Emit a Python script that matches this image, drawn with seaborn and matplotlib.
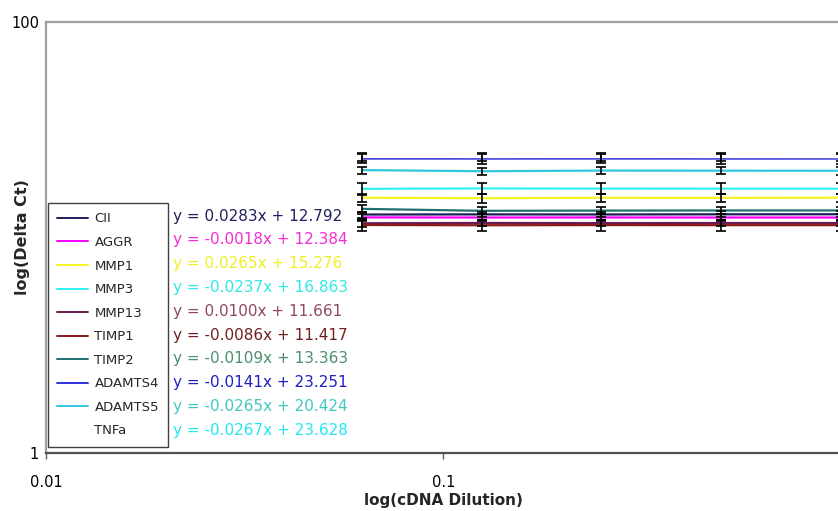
import matplotlib
matplotlib.use("Agg")
import matplotlib.pyplot as plt
from matplotlib.lines import Line2D
import seaborn as sns
import pandas as pd
import numpy as np

# ---------------- data ----------------
dilution = [0.0625, 0.125, 0.25, 0.5, 1.0]
genes = ["CII", "AGGR", "MMP1", "MMP3", "MMP13", "TIMP1", "TIMP2",
         "ADAMTS4", "ADAMTS5", "TNFa"]
CII = [12.78, 12.80, 12.79, 12.81, 12.82]
AGGR = [12.40, 12.38, 12.39, 12.38, 12.38]
MMP1 = [15.30, 15.22, 15.29, 15.28, 15.30]
MMP3 = [16.82, 16.90, 16.86, 16.85, 16.84]
MMP13 = [11.64, 11.68, 11.66, 11.67, 11.67]
TIMP1 = [11.43, 11.40, 11.42, 11.41, 11.41]
TIMP2 = [13.58, 13.30, 13.33, 13.35, 13.35]
ADAMTS4 = [23.25, 23.24, 23.25, 23.24, 23.24]
ADAMTS5 = [20.55, 20.30, 20.44, 20.42, 20.40]
TNFa = [23.64, 23.62, 23.63, 23.62, 23.60]

err_CII = [0.4, 0.4, 0.4, 0.4, 0.4]
err_AGGR = [0.5, 0.5, 0.5, 0.5, 0.5]
err_MMP1 = [0.7, 0.7, 0.7, 0.7, 0.7]
err_MMP3 = [1.0, 1.0, 1.0, 1.0, 1.0]
err_MMP13 = [0.4, 0.4, 0.4, 0.4, 0.4]
err_TIMP1 = [0.7, 0.7, 0.7, 0.7, 0.7]
err_TIMP2 = [0.5, 0.5, 0.5, 0.5, 0.5]
err_ADAMTS4 = [1.2, 1.2, 1.2, 1.2, 1.2]
err_ADAMTS5 = [0.8, 0.8, 0.8, 0.8, 0.8]
err_TNFa = [1.0, 1.0, 1.0, 1.0, 1.0]

equations = ["y = 0.0283x + 12.792", "y = -0.0018x + 12.384",
             "y = 0.0265x + 15.276", "y = -0.0237x + 16.863",
             "y = 0.0100x + 11.661", "y = -0.0086x + 11.417",
             "y = -0.0109x + 13.363", "y = -0.0141x + 23.251",
             "y = -0.0265x + 20.424", "y = -0.0267x + 23.628"]

x_ticks = [0.01, 0.1, 1]
x_tick_labels = ["0.01", "0.1", "1"]
y_ticks = [1, 100]
y_tick_labels = ["1", "100"]

values = [CII, AGGR, MMP1, MMP3, MMP13, TIMP1, TIMP2, ADAMTS4, ADAMTS5, TNFa]
errors = [err_CII, err_AGGR, err_MMP1, err_MMP3, err_MMP13, err_TIMP1,
          err_TIMP2, err_ADAMTS4, err_ADAMTS5, err_TNFa]

# ---------------- styles ----------------
line_colors = ["#1c1c5c", "#ff00ff", "#f4f420", "#30f0f0", "#6a1a50",
               "#8b1a1a", "#207070", "#3030d8", "#30c8e0", "#ffffff"]
eq_colors = ["#20205e", "#f030d0", "#f0f020", "#30e8e8", "#904860",
             "#702020", "#4a9070", "#2020c0", "#40c8c0", "#20e8f0"]

sns.set_style("white")
plt.rcParams["font.family"] = ["DejaVu Sans"]

W, H = 838, 511
fig = plt.figure(figsize=(W / 100, H / 100), dpi=100)
ax_left, ax_right, ax_top, ax_bottom = 46, 840.6, 22, 453
ax = fig.add_axes([ax_left / W, 1 - ax_bottom / H,
                   (ax_right - ax_left) / W, (ax_bottom - ax_top) / H])

rows = []
for g, vals in zip(genes, values):
    for d, v in zip(dilution, vals):
        rows.append({"dilution": d, "ct": v, "gene": g})
df = pd.DataFrame(rows)

palette = dict(zip(genes, line_colors))
sns.lineplot(data=df, x="dilution", y="ct", hue="gene", hue_order=genes,
             palette=palette, linewidth=1.6, errorbar=None, legend=False,
             ax=ax, zorder=2)

for vals, errs in zip(values, errors):
    ax.errorbar(dilution, vals, yerr=errs, fmt="none", ecolor="black",
                elinewidth=1.2, capsize=3.6, capthick=1.2, zorder=3,
                clip_on=False)

ax.set_xscale("log")
ax.set_yscale("log")
ax.set_xlim(0.01, 1)
ax.set_ylim(1, 100)
ax.set_xticks(x_ticks)
ax.set_xticklabels(x_tick_labels)
ax.set_yticks(y_ticks)
ax.set_yticklabels(y_tick_labels)
ax.minorticks_off()
ax.tick_params(axis="x", direction="out", length=4, width=1, color="#606060",
               pad=12, labelsize=10.5, labelcolor="black", bottom=True)
ax.tick_params(axis="y", length=0, pad=5, labelsize=10.5, labelcolor="black",
               left=True)

for s in ["top", "left"]:
    ax.spines[s].set_color("#a0a0a0")
    ax.spines[s].set_linewidth(1.6)
ax.spines["bottom"].set_color("#505050")
ax.spines["bottom"].set_linewidth(1.6)
ax.spines["right"].set_visible(False)

ax.set_xlabel("log(cDNA Dilution)", fontsize=11, fontweight="bold",
              labelpad=2)
ax.set_ylabel("log(Delta Ct)", fontsize=11.5, fontweight="bold")
ax.yaxis.set_label_coords(-0.0205, 0.5)

handles = [Line2D([], [], color=c, linewidth=1.4) for c in line_colors]
leg = ax.legend(handles, genes, loc="lower left",
                bbox_to_anchor=(0.0025, 0.014), borderaxespad=0,
                fontsize=9.5, frameon=True, fancybox=False, framealpha=1,
                edgecolor="#404040", handlelength=2.3, handletextpad=0.5,
                labelspacing=0.80, borderpad=0.72)
leg.get_frame().set_linewidth(1.0)

for i, (eq, c) in enumerate(zip(equations, eq_colors)):
    fig.text(173 / W, 1 - (216 + 23.8 * i) / H, eq, color=c, fontsize=11,
             ha="left", va="center")

fig.savefig("out.png", dpi=100)
